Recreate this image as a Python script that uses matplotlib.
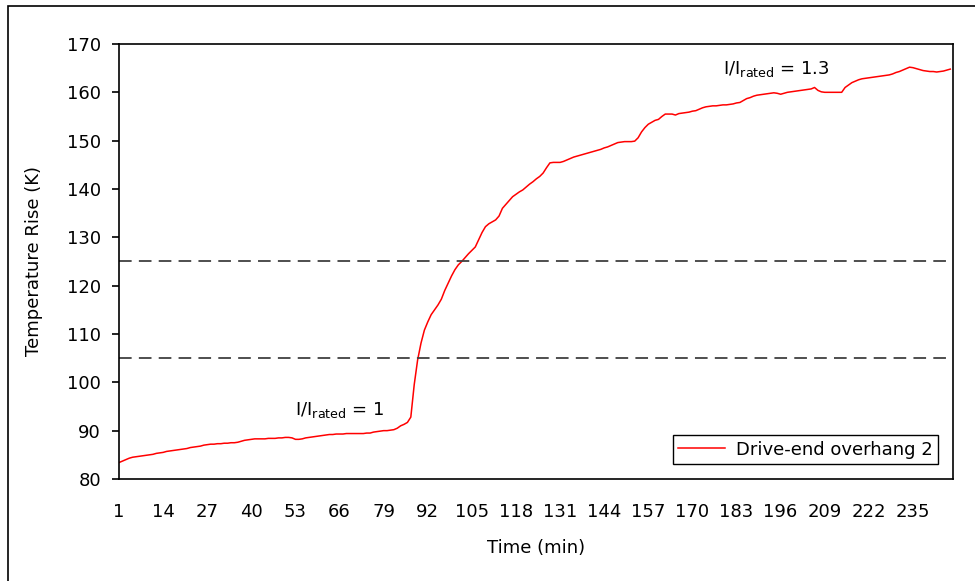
import matplotlib.pyplot as plt
from matplotlib.patches import Rectangle

plt.rcParams['font.family'] = ['DejaVu Sans']
plt.rcParams['mathtext.default'] = 'regular'

# temperature rise of the drive-end overhang, one reading per minute
temp_rise = [
    83.4, 83.7, 84.0, 84.3, 84.5, 84.6, 84.7, 84.8, 84.9, 85.0,
    85.1, 85.3, 85.4, 85.5, 85.7, 85.8, 85.9, 86.0, 86.1, 86.2,
    86.3, 86.5, 86.6, 86.7, 86.8, 87.0, 87.1, 87.2, 87.2, 87.3,
    87.3, 87.4, 87.4, 87.5, 87.5, 87.6, 87.8, 88.0, 88.1, 88.2,
    88.3, 88.3, 88.3, 88.3, 88.4, 88.4, 88.4, 88.5, 88.5, 88.6,
    88.6, 88.5, 88.2, 88.2, 88.3, 88.5, 88.6, 88.7, 88.8, 88.9,
    89.0, 89.1, 89.2, 89.2, 89.3, 89.3, 89.3, 89.4, 89.4, 89.4,
    89.4, 89.4, 89.4, 89.5, 89.5, 89.7, 89.8, 89.9, 90.0, 90.0,
    90.1, 90.2, 90.5, 91.0, 91.3, 91.7, 92.8, 99.5, 104.6, 108.1,
    110.8, 112.5, 114.0, 115.0, 116.0, 117.2, 119.0, 120.5, 122.0, 123.3,
    124.3, 125.0, 125.8, 126.6, 127.3, 128.0, 129.5, 131.0, 132.2, 132.8,
    133.2, 133.6, 134.4, 136.0, 136.8, 137.6, 138.4, 138.9, 139.4, 139.8,
    140.4, 141.0, 141.5, 142.1, 142.6, 143.3, 144.4, 145.4, 145.5, 145.5,
    145.5, 145.7, 146.0, 146.3, 146.6, 146.8, 147.0, 147.2, 147.4, 147.6,
    147.8, 148.0, 148.2, 148.5, 148.7, 149.0, 149.3, 149.6, 149.7, 149.8,
    149.8, 149.8, 149.9, 150.6, 151.8, 152.7, 153.4, 153.8, 154.2, 154.4,
    155.0, 155.5, 155.5, 155.5, 155.3, 155.6, 155.7, 155.8, 155.9, 156.1,
    156.2, 156.5, 156.8, 157.0, 157.1, 157.2, 157.2, 157.3, 157.4, 157.4,
    157.5, 157.6, 157.8, 157.9, 158.3, 158.7, 158.9, 159.2, 159.4, 159.5,
    159.6, 159.7, 159.8, 159.9, 159.8, 159.6, 159.8, 160.0, 160.1, 160.2,
    160.3, 160.4, 160.5, 160.6, 160.7, 161.0, 160.4, 160.1, 160.0, 160.0,
    160.0, 160.0, 160.0, 160.0, 161.0, 161.5, 162.0, 162.3, 162.6, 162.8,
    162.9, 163.0, 163.1, 163.2, 163.3, 163.4, 163.5, 163.6, 163.8, 164.1,
    164.3, 164.6, 164.9, 165.2, 165.1, 164.9, 164.7, 164.5, 164.4, 164.3,
    164.3, 164.2, 164.3, 164.4, 164.6, 164.8,
]
minutes = list(range(1, len(temp_rise) + 1))
x_ticks = list(range(1, 236, 13))
y_ticks = list(range(80, 171, 10))
limits = [105, 125]

fs = 13

fig = plt.figure(figsize=(9.75, 5.81), dpi=100)
ax = fig.add_axes([0.1221, 0.1756, 0.8553, 0.7487])

# outer chart border
fig.patches.append(Rectangle((8 / 975, -0.1), 1.2, 1.1 - 6 / 581,
                             transform=fig.transFigure, fill=False,
                             edgecolor='black', linewidth=1.2))

ax.plot(minutes, temp_rise, color='#ff0000', linewidth=1.1,
        label='Drive-end overhang 2')
for lim in limits:
    ax.axhline(lim, color='#404040', linewidth=1.3, dashes=(7, 4))

ax.set_xlim(1, 246.8)
ax.set_ylim(80, 170)
ax.set_xticks(x_ticks)
ax.set_yticks(y_ticks)
ax.tick_params(axis='x', length=0, pad=17, labelsize=fs)
ax.tick_params(axis='y', direction='out', length=5, width=1.2, pad=8,
               labelsize=fs)
for sp in ax.spines.values():
    sp.set_linewidth(1.2)

ax.set_xlabel('Time (min)', fontsize=fs, labelpad=13)
ax.set_ylabel('Temperature Rise (K)', fontsize=fs, labelpad=17)

ax.text(53, 94.3, 'I/I$_{rated}$ = 1', fontsize=fs, va='center')
ax.text(179, 164.8, 'I/I$_{rated}$ = 1.3', fontsize=fs, va='center')

leg = ax.legend(loc='lower right', bbox_to_anchor=(0.982, 0.0345),
                borderaxespad=0, fancybox=False, framealpha=1,
                fontsize=fs, handlelength=2.6, borderpad=0.3,
                handletextpad=0.6)
leg.get_frame().set_edgecolor('black')
leg.get_frame().set_linewidth(1.0)

fig.savefig('out.png', dpi=100)
